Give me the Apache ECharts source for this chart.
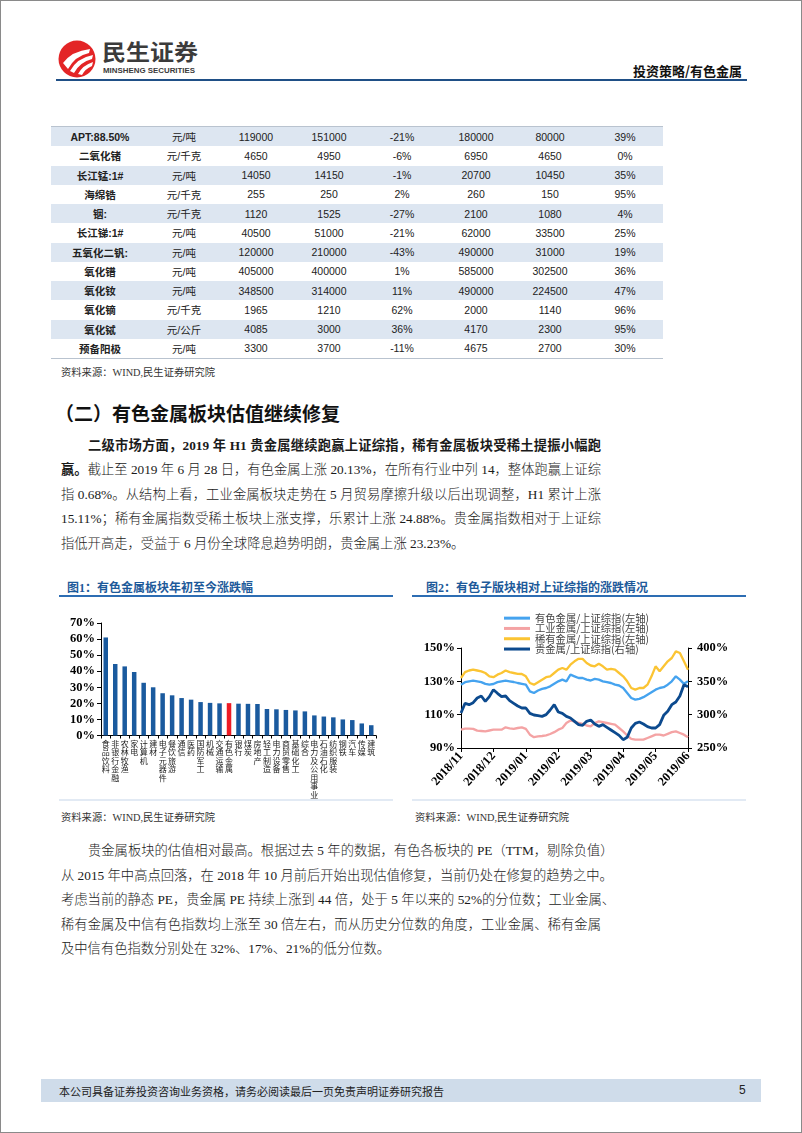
<!DOCTYPE html>
<html><head><meta charset="utf-8">
<script src="https://cdn.jsdelivr.net/npm/echarts/dist/echarts.min.js"></script>
<style>
html,body{margin:0;padding:0;background:#fff;}
#page{position:relative;width:802px;height:1133px;overflow:hidden;background:#fff;box-sizing:border-box;border:1px solid #8a8a8a;font-family:"Liberation Serif","Noto Sans CJK SC",serif;color:#1a1a1a;}
.abs{position:absolute;}
.line{position:absolute;left:60px;width:540px;height:24px;line-height:24px;font-size:13.3px;font-weight:300;white-space:nowrap;text-align:justify;text-align-last:justify;}
.line b,.line.bold{font-weight:bold;}
.last{text-align:left;text-align-last:left;}
.src{position:absolute;font-size:10.3px;color:#333;}
.ftitle{position:absolute;font-size:12px;font-weight:bold;color:#1d5a9a;font-family:"Liberation Serif","Noto Sans CJK SC";}
.fline{position:absolute;height:2px;background:#2d6db3;}
table{border-collapse:collapse;}
#tbl{position:absolute;left:50px;top:125px;width:612px;border-top:1px solid #b9c3cf;border-bottom:1px solid #b9c3cf;font-family:"Liberation Sans","Noto Sans CJK SC",sans-serif;font-size:10.5px;color:#222;}
#tbl td{height:19.25px;padding:0;text-align:center;}
#tbl tr.s td{background:#dde6f1;}
#tbl td.n{font-weight:bold;}
</style></head>
<body>
<div id="page">
  <svg class="abs" style="left:57px;top:39px" width="38" height="38" viewBox="0 0 38 38">
    <circle cx="19" cy="19" r="18.5" fill="#e32526"/>
    <path d="M5 23 Q14 11 32 9 L31 13 Q17 16 10 29 Z" fill="#fff"/>
    <path d="M12 31 Q19 18 35 15 L34 19 Q22 22 16 33 Z" fill="#fff"/>
    <path d="M20 34 Q25 25 35 22 L34 26 Q27 29 24 35 Z" fill="#fff"/>
  </svg>
  <div class="abs" style="left:101px;top:37px;font-family:'Noto Sans CJK SC';font-weight:bold;font-size:24px;line-height:28px;color:#3b3b3b;transform:scaleY(0.92);transform-origin:left top;">民生证券</div>
  <div class="abs" style="left:102px;top:65px;font-family:'Liberation Sans';font-weight:bold;font-size:7.9px;color:#3b3b3b;white-space:nowrap;">MINSHENG SECURITIES</div>
  <div class="abs" style="left:632px;top:60px;font-family:'Noto Sans CJK SC';font-weight:bold;font-size:13px;color:#111;">投资策略/有色金属</div>
  <div class="abs" style="left:55px;top:78px;width:691px;height:2px;background:#1f4f86;"></div>

  <table id="tbl"><tbody id="tb"></tbody></table>

  <div class="src" style="left:60px;top:363px;">资料来源：WIND,民生证券研究院</div>

  <div class="abs" style="left:54px;top:398px;font-family:'Noto Sans CJK SC';font-weight:bold;font-size:19px;color:#111;">（二）有色金属板块估值继续修复</div>

  <div class="line bold" style="top:433px;padding-left:27px;width:513px;">二级市场方面，2019 年 H1 贵金属继续跑赢上证综指，稀有金属板块受稀土提振小幅跑</div>
  <div class="line" style="top:457px;"><b>赢。</b>截止至 2019 年 6 月 28 日，有色金属上涨 20.13%，在所有行业中列 14，整体跑赢上证综</div>
  <div class="line" style="top:482px;">指 0.68%。从结构上看，工业金属板块走势在 5 月贸易摩擦升级以后出现调整，H1 累计上涨</div>
  <div class="line" style="top:506px;">15.11%；稀有金属指数受稀土板块上涨支撑，乐累计上涨 24.88%。贵金属指数相对于上证综</div>
  <div class="line last" style="top:531px;">指低开高走，受益于 6 月份全球降息趋势明朗，贵金属上涨 23.23%。</div>

  <div class="ftitle" style="left:66px;top:577px;">图1：有色金属板块年初至今涨跌幅</div>
  <div class="fline" style="left:58px;top:594px;width:334px;"></div>
  <div class="ftitle" style="left:425px;top:577px;">图2：有色子版块相对上证综指的涨跌情况</div>
  <div class="fline" style="left:411px;top:594px;width:334px;"></div>

  <div id="c1" class="abs" style="left:40px;top:600px;width:360px;height:198px;"></div>
  <div id="c2" class="abs" style="left:405px;top:600px;width:360px;height:198px;"></div>
  <div class="abs" style="left:58px;top:798px;width:334px;height:2px;background:#e2eaf4;"></div>
  <div class="abs" style="left:411px;top:798px;width:334px;height:2px;background:#e2eaf4;"></div>

  <div class="src" style="left:60px;top:808px;">资料来源：WIND,民生证券研究院</div>
  <div class="src" style="left:414px;top:808px;">资料来源：WIND,民生证券研究院</div>

  <div class="line" style="top:838px;padding-left:27px;width:513px;">贵金属板块的估值相对最高。根据过去 5 年的数据，有色各板块的 PE（TTM，剔除负值）</div>
  <div class="line" style="top:863px;">从 2015 年中高点回落，在 2018 年 10 月前后开始出现估值修复，当前仍处在修复的趋势之中。</div>
  <div class="line" style="top:887px;">考虑当前的静态 PE，贵金属 PE 持续上涨到 44 倍，处于 5 年以来的 52%的分位数；工业金属、</div>
  <div class="line" style="top:912px;">稀有金属及中信有色指数均上涨至 30 倍左右，而从历史分位数的角度，工业金属、稀有金属</div>
  <div class="line last" style="top:936px;">及中信有色指数分别处在 32%、17%、21%的低分位数。</div>

  <div class="abs" style="left:40px;top:1078px;width:720px;height:23px;background:#cfdcea;"></div>
  <div class="abs" style="left:58px;top:1082px;font-family:'Noto Sans CJK SC';font-size:11px;color:#222;">本公司具备证券投资咨询业务资格，请务必阅读最后一页免责声明证券研究报告</div>
  <div class="abs" style="left:738px;top:1082px;font-family:'Liberation Sans';font-size:12px;color:#222;">5</div>
</div>
<script>
// ---- table data ----
const tableNames = ['APT:88.50%','二氧化锗','长江锰:1#','海绵锆','铟:','长江锑:1#','五氧化二钒:','氧化镨','氧化钕','氧化镝','氧化铽','预备阳极'];
const tableUnits = ['元/吨','元/千克','元/吨','元/千克','元/千克','元/吨','元/吨','元/吨','元/吨','元/千克','元/公斤','元/吨'];
const priceNow = [119000,4650,14050,255,1120,40500,120000,405000,348500,1965,4085,3300];
const priceYearStart = [151000,4950,14150,250,1525,51000,210000,400000,314000,1210,3000,3700];
const priceChange = ['-21%','-6%','-1%','2%','-27%','-21%','-43%','1%','11%','62%','36%','-11%'];
const priceHigh = [180000,6950,20700,260,2100,62000,490000,585000,490000,2000,4170,4675];
const priceLow = [80000,4650,10450,150,1080,33500,31000,302500,224500,1140,2300,2700];
const pricePctile = ['39%','0%','35%','95%','4%','25%','19%','36%','47%','96%','95%','30%'];

// ---- figure 1 data ----
const sectors = ['食品饮料','非银行金融','农林牧渔','家电','计算机','建材','电子元器件','餐饮旅游','通信','医药','国防军工','机械','交通运输','有色金属','银行','煤炭','房地产','轻工制造','电力设备','商贸零售','基础化工','综合','电力及公用事业','石油石化','纺织服装','钢铁','汽车','传媒','建筑'];
const sectorChange = [61,44.5,43,39.5,32.8,30,26.3,25,23.3,22.3,20.8,20.3,20,20.13,19.8,19.7,19.6,16.5,16.3,15.9,15.6,15,12.5,11.8,11.3,10,9.6,7.5,6.4];
const highlightSector = '有色金属';

// ---- figure 2 data ----
const dates = ['2018-11-01','2018-11-06','2018-11-09','2018-11-14','2018-11-16','2018-11-21','2018-11-26','2018-11-29','2018-12-04',
'2018-12-07','2018-12-12','2018-12-14','2018-12-19','2018-12-24','2018-12-27','2019-01-03','2019-01-07',
'2019-01-10','2019-01-15','2019-01-18','2019-01-23','2019-01-28','2019-01-31','2019-02-13','2019-02-18',
'2019-02-21','2019-02-25','2019-02-28','2019-03-05','2019-03-07','2019-03-12','2019-03-14','2019-03-19',
'2019-03-22','2019-03-27','2019-03-29','2019-04-03','2019-04-09','2019-04-11','2019-04-16','2019-04-19',
'2019-04-24','2019-04-29','2019-05-07','2019-05-10','2019-05-15','2019-05-17','2019-05-22','2019-05-27',
'2019-05-30','2019-06-04','2019-06-10','2019-06-13','2019-06-18','2019-06-20','2019-06-25','2019-06-28'];
const nonferrous = [128,129.5,130,130.4,130,129.5,128.5,128,128.4,129.5,130,130.4,130,129.6,129,128.5,128,124,123,124.5,125.5,126,127,128.5,130,131,130,134,133,132,132,131,130.5,131.5,131,130,129.5,129,128,127.5,126,123,120,119,119.5,120.5,122,123.5,125,126,126.5,128,130,133,131,128.5,130];
const industrial = [101,101.6,101.6,101.5,100.4,100.2,100,100.5,101,101,101,102.4,101.8,101.5,102,102.4,101.5,98,96.5,97,97.2,97.6,98.4,99.5,101,102,105,106.5,106,105,104.5,103.5,103,105,106,105.5,105,104.5,104,102,100,97.5,95.5,95,95,95,96,97,98,98,97.5,98.5,99.5,100,99,98,96.4];
const rareMetals = [132,135.5,136.5,137,136.5,136,135,133,132.5,134,135,136.5,135.5,135,134.5,134.4,133,129,128,129.5,131,132.5,133,135,137,138,137,140,142,143.5,143.5,141,139.5,139,140.5,139,137,137.5,137,135,133,130,126,125,126,126,128,133,139,136,139,142,144,148,147,142,137];
const preciousMetals = [302.5,317,315,318,325,328,320,327,337.5,332,327,328,321,317,313,310,310,302,299.5,298.5,297.5,300,307,315,304,302,297.5,295,290,285,284,290,292,286,282.5,285,281,277,273,269,262.5,266,280,287,289,286,282,280,280,285,299,305,315,319,328,345,342];
const leftTicks = [90,110,130,150];

(function(){
  const tb = document.getElementById('tb');
  for (let i=0;i<tableNames.length;i++){
    const tr = document.createElement('tr');
    if (i%2===0) tr.className='s';
    const cells=[tableNames[i],tableUnits[i],priceNow[i],priceYearStart[i],priceChange[i],priceHigh[i],priceLow[i],pricePctile[i]];
    const widths=[98,70,74,72,74,74,74,76];
    cells.forEach((c,j)=>{const td=document.createElement('td');td.textContent=c;td.style.width=widths[j]+'px';if(j===0)td.className='n';tr.appendChild(td);});
    tb.appendChild(tr);
  }
})();

const serifBold = {fontFamily:'Liberation Serif',fontWeight:'bold',color:'#000'};

const c1 = echarts.init(document.getElementById('c1'));
c1.setOption({
  animation:false,
  grid:{left:60,top:22,width:275,height:115},
  xAxis:{type:'category',data:sectors,
    axisLine:{lineStyle:{color:'#000',width:1}},
    axisTick:{show:true,interval:0,length:3,lineStyle:{color:'#000'}},
    axisLabel:{interval:0,fontSize:8,lineHeight:8.5,color:'#222',fontFamily:'Noto Sans CJK SC',margin:4,
      width:30,overflow:'none',hideOverlap:false,
      formatter:v=>v.split('').join('\n')}},
  yAxis:{type:'value',min:0,max:70,interval:10,
    axisLine:{show:true,lineStyle:{color:'#000',width:1}},
    axisTick:{show:true,length:4,lineStyle:{color:'#000'}},
    splitLine:{show:false},
    axisLabel:Object.assign({fontSize:12.5,margin:6,formatter:'{value}%'},serifBold)},
  series:[{type:'bar',data:sectorChange,barWidth:4.5,
    itemStyle:{color:p=>p.name===highlightSector?'#ee1c25':'#1a5a9e'}}]
});

const c2 = echarts.init(document.getElementById('c2'));
const legendNames=['有色金属/上证综指(左轴)','工业金属/上证综指(左轴)','稀有金属/上证综指(左轴)','贵金属/上证综指(右轴)'];
const colors=['#45a3ef','#f4a3a4','#fbc433','#0c4a8e'];
c2.setOption({
  animation:false,
  color:colors,
  grid:{left:55,top:47,width:227,height:100},
  legend:{orient:'vertical',left:93,top:7,itemWidth:26,itemHeight:3,itemGap:0,icon:'rect',
    textStyle:{fontSize:10.3,lineHeight:10,color:'#444',fontFamily:'Noto Sans CJK SC'},data:legendNames},
  xAxis:{type:'category',data:dates,boundaryGap:false,
    axisLine:{lineStyle:{color:'#000'}},
    axisTick:{show:true,interval:7,length:4,lineStyle:{color:'#000'}},
    axisLabel:Object.assign({interval:7,rotate:48,fontSize:12.5,margin:6,formatter:v=>v.slice(0,7).replace('-','/')},serifBold)},
  yAxis:[
    {type:'value',min:90,max:150,
      axisLine:{show:true,lineStyle:{color:'#000'}},
      axisTick:{show:true,length:4,customValues:leftTicks,lineStyle:{color:'#000'}},
      splitLine:{show:false},
      axisLabel:Object.assign({fontSize:12.5,margin:6,customValues:leftTicks,formatter:'{value}%'},serifBold)},
    {type:'value',min:250,max:400,interval:50,position:'right',
      axisLine:{show:true,lineStyle:{color:'#000'}},
      axisTick:{show:true,length:4,lineStyle:{color:'#000'}},
      splitLine:{show:false},
      axisLabel:Object.assign({fontSize:12.5,margin:9,formatter:'{value}%'},serifBold)}
  ],
  series:[
    {name:legendNames[0],type:'line',data:nonferrous,showSymbol:false,lineStyle:{width:2.3}},
    {name:legendNames[1],type:'line',data:industrial,showSymbol:false,lineStyle:{width:2.3}},
    {name:legendNames[2],type:'line',data:rareMetals,showSymbol:false,lineStyle:{width:2.3}},
    {name:legendNames[3],type:'line',yAxisIndex:1,data:preciousMetals,showSymbol:false,lineStyle:{width:2.8}}
  ]
});
</script>
</body></html>
